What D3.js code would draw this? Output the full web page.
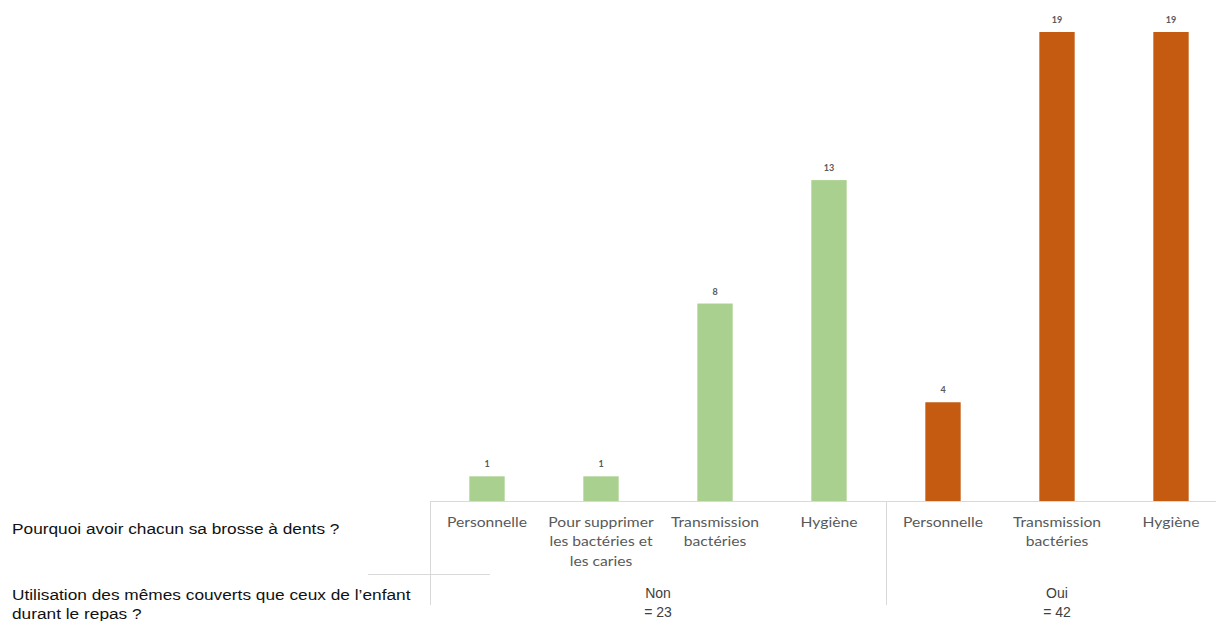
<!DOCTYPE html>
<html><head><meta charset="utf-8">
<script src="https://cdn.jsdelivr.net/npm/d3@7"></script>
<style>body{margin:0;background:#fff}svg{display:block}</style>
</head><body>
<svg id="c" width="1216" height="621"></svg>
<script>
const categories = [
  ["Personnelle"],
  ["Pour supprimer","les bactéries et","les caries"],
  ["Transmission","bactéries"],
  ["Hygiène"],
  ["Personnelle"],
  ["Transmission","bactéries"],
  ["Hygiène"]
];
const groups = ["Non", "Non", "Non", "Non", "Oui", "Oui", "Oui"];
const values = [1, 1, 8, 13, 4, 19, 19];
const groupLabels = [["Non","= 23"],["Oui","= 42"]];
const groupSizes = [4, 3];
const rowLabels = [["Pourquoi avoir chacun sa brosse à dents ?"],["Utilisation des mêmes couverts que ceux de l’enfant","durant le repas ?"]];
const colors = {Non: "#a9d08e", Oui: "#c55a11"};

const svg = d3.select("#c");
const idx = d3.range(values.length);
const x = d3.scaleBand().domain(idx).range([430, 1228]).paddingInner(0.69).paddingOuter(0.345);
const y = d3.scaleLinear().domain([0, 19]).range([501, 32]);

// bars
svg.selectAll("rect.bar").data(idx).join("rect")
  .attr("x", i => x(i)).attr("width", x.bandwidth())
  .attr("y", i => y(values[i])).attr("height", i => y(0) - y(values[i]))
  .attr("fill", i => colors[groups[i]]);

// value labels
svg.selectAll("text.val").data(idx).join("text")
  .attr("x", i => x(i) + x.bandwidth()/2).attr("y", i => y(values[i]) - 9)
  .attr("text-anchor","middle").attr("font-family","Lato, 'Open Sans', sans-serif")
  .attr("font-size", 9).attr("font-weight","bold").attr("fill","#595959")
  .text(i => values[i]);

// axis lines
const step = x.step();
const x0 = x.range()[0];
const lineCol = "#d9d9d9";
svg.append("line").attr("x1", x0).attr("x2", 1216).attr("y1", y(0)+0.5).attr("y2", y(0)+0.5).attr("stroke", lineCol);
let acc = 0;
const dividers = [0];
groupSizes.forEach(s => { acc += s; dividers.push(acc); });
dividers.forEach(d => {
  const xx = x0 + d*step;
  if (xx < 1216) svg.append("line").attr("x1", xx+0.5).attr("x2", xx+0.5).attr("y1", y(0)).attr("y2", 605).attr("stroke", lineCol);
});
svg.append("line").attr("x1", 368).attr("x2", 490).attr("y1", 574.5).attr("y2", 574.5).attr("stroke", lineCol);

// category labels
idx.forEach(i => {
  const g = svg.append("g").attr("transform", `translate(${x(i) + x.bandwidth()/2},0) scale(1.12,1)`);
  const t = g.append("text").attr("text-anchor","middle")
    .attr("font-family","Lato, 'Open Sans', sans-serif").attr("font-size", 14).attr("fill","#595959");
  categories[i].forEach((ln, k) => {
    t.append("tspan").attr("x", 0).attr("y", 527 + k*19.5).text(ln);
  });
});

// group labels
let start = 0;
groupLabels.forEach((gl, g) => {
  const cx = x0 + (start + groupSizes[g]/2) * step;
  start += groupSizes[g];
  const t = svg.append("text").attr("text-anchor","middle")
    .attr("font-family","'Liberation Sans', Arial, sans-serif").attr("font-size", 14).attr("fill","#404040");
  gl.forEach((ln, k) => t.append("tspan").attr("x", cx).attr("y", 598 + k*19).text(ln));
});

// row labels
const rowY = [534, 600];
rowLabels.forEach((rl, r) => {
  const g = svg.append("g").attr("transform", "translate(12,0) scale(1.115,1)");
  const t = g.append("text").attr("font-family","'Liberation Sans', Arial, sans-serif")
    .attr("font-size", 15.5).attr("fill","#111");
  rl.forEach((ln, k) => t.append("tspan").attr("x", 0).attr("y", rowY[r] + k*19).text(ln));
});
</script>
</body></html>
